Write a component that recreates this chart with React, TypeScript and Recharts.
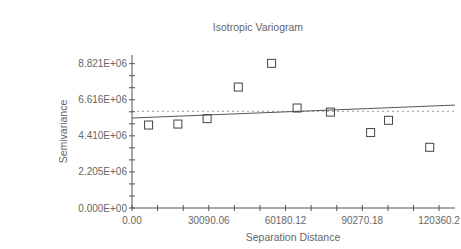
import React from "react";
import {
  ComposedChart,
  Scatter,
  Line,
  XAxis,
  YAxis,
  ReferenceLine,
} from "recharts";

// experimental variogram points
const LAG_DIST = [6490, 17980, 29430, 41660, 54710, 64720, 77770, 93520, 100550, 116690];
const SEMIVAR = [5070000, 5130000, 5460000, 7390000, 8840000, 6110000, 5860000, 4610000, 5360000, 3710000];

// fitted model line
const MODEL_DIST = [0, 126600];
const MODEL_VAL = [5500000, 6290000];

const SILL = 5910000;

const X_TICKS = [
  0, 10030.02, 20060.04, 30090.06, 40120.08, 50150.1, 60180.12, 70210.14,
  80240.16, 90270.18, 100300.2, 110330.22, 120360.24,
];
const X_LABELS = ["0.00", "", "", "30090.06", "", "", "60180.12", "", "", "90270.18", "", "", "120360.2"];

const Y_TICKS = [
  0, 735083, 1470167, 2205250, 2940333, 3675417, 4410500, 5145583, 5880667,
  6615750, 7350833, 8085917, 8821000,
];
const Y_LABELS = ["0.000E+00", "", "", "2.205E+06", "", "", "4.410E+06", "", "", "6.616E+06", "", "", "8.821E+06"];

const points = LAG_DIST.map((x, i) => ({ x, y: SEMIVAR[i] }));
const model = MODEL_DIST.map((x, i) => ({ x, y: MODEL_VAL[i] }));

const FONT = "Liberation Sans, Arial, sans-serif";
const AXIS = "#555";
const TEXT = "#666";

const XTick = (props: any) => {
  const { x, y, index } = props;
  return (
    <g>
      <line x1={x} x2={x} y1={y - 3} y2={y + 3} stroke={AXIS} />
      <text x={x} y={y + 16} textAnchor="middle" fontSize={10} fill={TEXT} fontFamily={FONT}>
        {X_LABELS[index]}
      </text>
    </g>
  );
};

const YTick = (props: any) => {
  const { x, y, index } = props;
  return (
    <g>
      <line x1={x - 3} x2={x + 3} y1={y} y2={y} stroke={AXIS} />
      <text x={x - 5} y={y} dy="0.35em" textAnchor="end" fontSize={10} fill={TEXT} fontFamily={FONT}>
        {Y_LABELS[index]}
      </text>
    </g>
  );
};

const Square = (props: any) => {
  const { cx, cy } = props;
  return <rect x={cx - 4} y={cy - 4} width={8} height={8} fill="none" stroke="#444" strokeWidth={1} />;
};

export default function App() {
  return (
    <div style={{ position: "absolute", left: 0, top: 0, background: "#fff" }}>
      <ComposedChart
        width={461}
        height={249}
        margin={{ top: 55, right: 6, bottom: 0, left: 0 }}
      >
        <XAxis
          dataKey="x"
          type="number"
          domain={[0, 126600]}
          ticks={X_TICKS}
          interval={0}
          height={41}
          tickSize={0}
          tickMargin={0}
          tickLine={false}
          stroke={AXIS}
          tick={<XTick />}
          allowDataOverflow
        />
        <YAxis
          dataKey="y"
          type="number"
          domain={[0, 9350000]}
          ticks={Y_TICKS}
          interval={0}
          width={132}
          tickSize={0}
          tickMargin={0}
          tickLine={false}
          stroke={AXIS}
          tick={<YTick />}
          allowDataOverflow
        />
        <ReferenceLine y={SILL} stroke="#999" strokeDasharray="2 3" />
        <Line
          data={model}
          dataKey="y"
          stroke="#555"
          strokeWidth={1}
          dot={false}
          isAnimationActive={false}
        />
        <Scatter data={points} dataKey="y" shape={<Square />} isAnimationActive={false} />
        <text x={258} y={31} textAnchor="middle" fontSize={10.5} fill={TEXT} fontFamily={FONT}>
          Isotropic Variogram
        </text>
        <text
          x={63}
          y={131.5}
          dy="0.35em"
          textAnchor="middle"
          fontSize={10.5}
          fill={TEXT}
          fontFamily={FONT}
          transform="rotate(-90, 63, 131.5)"
        >
          Semivariance
        </text>
        <text x={293} y={240.5} textAnchor="middle" fontSize={10.5} fill={TEXT} fontFamily={FONT}>
          Separation Distance
        </text>
      </ComposedChart>
    </div>
  );
}
